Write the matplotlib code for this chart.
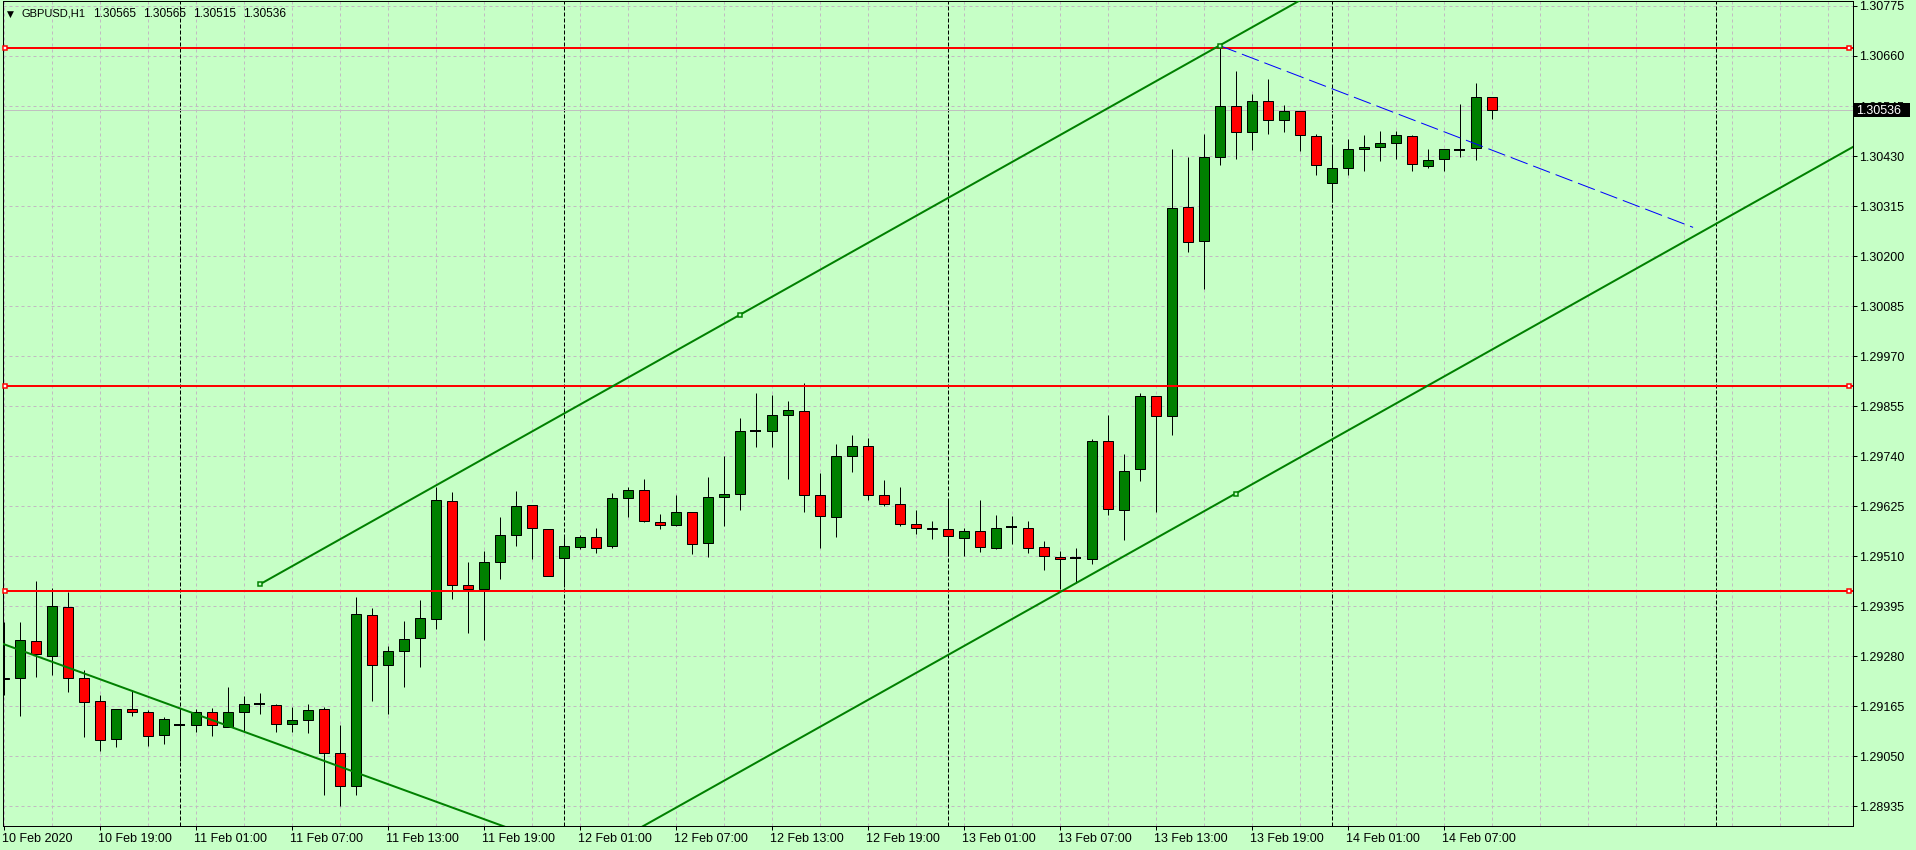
import matplotlib
matplotlib.use("Agg")
import matplotlib.pyplot as plt
from matplotlib.patches import Rectangle
import matplotlib.transforms as mtransforms
import numpy as np

plt.rcParams['lines.scale_dashes'] = False
plt.rcParams['font.family'] = ['Liberation Sans', 'DejaVu Sans']

# ---------------- data ----------------
symbol = "GBPUSD,H1"
title_prices = ["1.30565", "1.30565", "1.30515", "1.30536"]

opens = [1.29227, 1.29229, 1.29315, 1.29281, 1.29393, 1.29229, 1.29177, 1.29089, 1.29158, 1.29151,
         1.29098, 1.29123, 1.29121, 1.29151, 1.29118, 1.29151, 1.29170, 1.29167, 1.29124, 1.29133,
         1.29158, 1.29057, 1.28982, 1.29374, 1.29259, 1.29291, 1.29321, 1.29365, 1.29636, 1.29443,
         1.29434, 1.29497, 1.29558, 1.29627, 1.29572, 1.29505, 1.29531, 1.29554, 1.29533, 1.29643,
         1.29662, 1.29588, 1.29581, 1.29611, 1.29540, 1.29645, 1.29652, 1.29799, 1.29797, 1.29834,
         1.29843, 1.29650, 1.29600, 1.29740, 1.29763, 1.29650, 1.29629, 1.29583, 1.29576, 1.29572,
         1.29551, 1.29567, 1.29528, 1.29578, 1.29574, 1.29531, 1.29508, 1.29507, 1.29504, 1.29774,
         1.29616, 1.29711, 1.29878, 1.29832, 1.30312, 1.30234, 1.30427, 1.30544, 1.30485, 1.30556,
         1.30512, 1.30533, 1.30475, 1.30367, 1.30402, 1.30446, 1.30450, 1.30459, 1.30475, 1.30406,
         1.30423, 1.30445, 1.30448, 1.30565]
highs = [1.29359, 1.29359, 1.29453, 1.29438, 1.29428, 1.29248, 1.29191, 1.29158, 1.29202, 1.29156,
         1.29140, 1.29156, 1.29159, 1.29160, 1.29209, 1.29189, 1.29196, 1.29170, 1.29164, 1.29170,
         1.29163, 1.29122, 1.29416, 1.29391, 1.29304, 1.29360, 1.29409, 1.29668, 1.29658, 1.29497,
         1.29522, 1.29600, 1.29660, 1.29627, 1.29572, 1.29558, 1.29558, 1.29574, 1.29655, 1.29668,
         1.29687, 1.29606, 1.29651, 1.29611, 1.29691, 1.29740, 1.29828, 1.29885, 1.29881, 1.29867,
         1.29908, 1.29701, 1.29767, 1.29788, 1.29781, 1.29685, 1.29668, 1.29616, 1.29590, 1.29639,
         1.29574, 1.29639, 1.29604, 1.29602, 1.29591, 1.29544, 1.29521, 1.29530, 1.29779, 1.29834,
         1.29744, 1.29885, 1.29878, 1.30446, 1.30427, 1.30480, 1.30684, 1.30626, 1.30573, 1.30606,
         1.30547, 1.30533, 1.30480, 1.30455, 1.30469, 1.30478, 1.30487, 1.30487, 1.30478, 1.30446,
         1.30446, 1.30549, 1.30597, 1.30565]
lows = [1.29191, 1.29143, 1.29233, 1.29237, 1.29199, 1.29095, 1.29062, 1.29072, 1.29143, 1.29074,
        1.29079, 1.29040, 1.29107, 1.29097, 1.29118, 1.29107, 1.29148, 1.29107, 1.29107, 1.29104,
        1.28962, 1.28936, 1.28962, 1.29178, 1.29148, 1.29210, 1.29256, 1.29343, 1.29412, 1.29334,
        1.29318, 1.29458, 1.29534, 1.29504, 1.29464, 1.29440, 1.29526, 1.29517, 1.29528, 1.29601,
        1.29588, 1.29572, 1.29579, 1.29514, 1.29509, 1.29580, 1.29617, 1.29762, 1.29761, 1.29688,
        1.29612, 1.29530, 1.29555, 1.29704, 1.29640, 1.29625, 1.29579, 1.29562, 1.29550, 1.29511,
        1.29511, 1.29520, 1.29527, 1.29538, 1.29518, 1.29479, 1.29435, 1.29448, 1.29493, 1.29605,
        1.29548, 1.29684, 1.29612, 1.29789, 1.30209, 1.30125, 1.30410, 1.30424, 1.30445, 1.30481,
        1.30486, 1.30442, 1.30387, 1.30324, 1.30386, 1.30395, 1.30418, 1.30424, 1.30395, 1.30402,
        1.30395, 1.30427, 1.30422, 1.30515]
closes = [1.29229, 1.29317, 1.29285, 1.29396, 1.29229, 1.29176, 1.29087, 1.29158, 1.29151, 1.29096,
          1.29135, 1.29123, 1.29151, 1.29121, 1.29151, 1.29170, 1.29170, 1.29124, 1.29133, 1.29156,
          1.29057, 1.28982, 1.29377, 1.29259, 1.29291, 1.29319, 1.29367, 1.29639, 1.29443, 1.29434,
          1.29496, 1.29558, 1.29625, 1.29574, 1.29464, 1.29533, 1.29554, 1.29528, 1.29643, 1.29662,
          1.29590, 1.29581, 1.29611, 1.29537, 1.29645, 1.29652, 1.29797, 1.29799, 1.29834, 1.29845,
          1.29650, 1.29602, 1.29740, 1.29763, 1.29650, 1.29629, 1.29583, 1.29576, 1.29572, 1.29556,
          1.29567, 1.29531, 1.29576, 1.29578, 1.29530, 1.29510, 1.29503, 1.29507, 1.29776, 1.29618,
          1.29705, 1.29878, 1.29832, 1.30310, 1.30232, 1.30427, 1.30544, 1.30485, 1.30556, 1.30512,
          1.30533, 1.30478, 1.30409, 1.30402, 1.30446, 1.30450, 1.30459, 1.30478, 1.30411, 1.30420,
          1.30446, 1.30445, 1.30565, 1.30536]

time_label_idx = [0, 6, 12, 18, 24, 30, 36, 42, 48, 54, 60, 66, 72, 78, 84, 90]
time_labels = ["10 Feb 2020", "10 Feb 19:00", "11 Feb 01:00", "11 Feb 07:00", "11 Feb 13:00",
               "11 Feb 19:00", "12 Feb 01:00", "12 Feb 07:00", "12 Feb 13:00", "12 Feb 19:00",
               "13 Feb 01:00", "13 Feb 07:00", "13 Feb 13:00", "13 Feb 19:00", "14 Feb 01:00",
               "14 Feb 07:00"]
day_sep_idx = [11, 35, 59, 83, 107]

price_ticks = [1.30775, 1.30660, 1.30545, 1.30430, 1.30315, 1.30200, 1.30085, 1.29970, 1.29855,
               1.29740, 1.29625, 1.29510, 1.29395, 1.29280, 1.29165, 1.29050, 1.28935]
price_tick_labels = ["1.30775", "1.30660", "1.30545", "1.30430", "1.30315", "1.30200", "1.30085",
                     "1.29970", "1.29855", "1.29740", "1.29625", "1.29510", "1.29395", "1.29280",
                     "1.29165", "1.29050", "1.28935"]
bid_price = 1.30536
bid_label = "1.30536"

red_levels = [1.30679, 1.29902, 1.29431]
channel_pts_x = [16, 76]
channel_pts_y = [1.29445, 1.30684]
channel_lower_x = 77
channel_lower_y = 1.29654
down_pts_x = [0, 30]
down_pts_y = [1.29308, 1.28906]
blue_pts_x = [76, 105.6]
blue_pts_y = [1.30684, 1.30266]

# ---------------- style / layout ----------------
W, H, DPI = 1916, 850, 100
PX = 72.0 / DPI
BG = "#C6FFC6"
GRID = "#C2BAC2"
GREEN = "#008000"
RED = "#FF0000"
BLUE = "#0000FF"
FONT = 9

fig = plt.figure(figsize=(W / DPI, H / DPI), dpi=DPI)
fig.patch.set_facecolor(BG)
L, R, T, B = 2.5, 1852.5, 1.0, 826.0
ax = fig.add_axes([L / W, 1 - B / H, (R - L) / W, (B - T) / H])
ax.set_facecolor(BG)
ax.set_xlim(-0.0625, 115.5625)
ax.set_ylim(1.288898, 1.307864)
ppx = (1.307864 - 1.288898) / (B - T)

for s in ax.spines.values():
    s.set_color("black")
    s.set_linewidth(PX)

# grid
for k in range(0, 116, 3):
    ax.axvline(k, color=GRID, lw=PX, dashes=(3 * PX, 3 * PX), zorder=0.5)
for p in price_ticks:
    ax.axhline(p, color=GRID, lw=PX, dashes=(3 * PX, 3 * PX), zorder=0.5)
for d in day_sep_idx:
    ax.axvline(d, color="black", lw=PX, dashes=(4 * PX, 2 * PX), zorder=0.8)

# bid line
ax.axhline(bid_price, color="#C0C0C0", lw=PX, zorder=1)

# candles
o = np.array(opens); h = np.array(highs); lo = np.array(lows); c = np.array(closes)
idx = np.arange(len(o))
ax.vlines(idx, lo, h, colors="black", lw=PX, zorder=3)
BW = 10 / 16.0
for i in idx:
    if abs(c[i] - o[i]) < 0.8 * ppx:
        ax.hlines(o[i], i - 5.5 / 16, i + 5.5 / 16, colors="black", lw=2 * PX, zorder=4)
    else:
        col = GREEN if c[i] > o[i] else RED
        ax.add_patch(Rectangle((i - BW / 2, min(o[i], c[i])), BW, abs(c[i] - o[i]),
                               facecolor=col, edgecolor="black", lw=PX, zorder=4))

# horizontal red lines with anchor squares
axx = mtransforms.blended_transform_factory(ax.transAxes, ax.transData)
for p in red_levels:
    ax.axhline(p, color=RED, lw=2 * PX, zorder=6)
    ax.plot([2.5 / (R - L), 1 - 3.5 / (R - L)], [p, p], ls="none", marker="s", ms=4.5 * PX * 1.1,
            mfc="white", mec=RED, mew=1.5 * PX, transform=axx, zorder=7, clip_on=False)

# channel
slope = (channel_pts_y[1] - channel_pts_y[0]) / (channel_pts_x[1] - channel_pts_x[0])
xu = np.array([channel_pts_x[0], 200.0])
ax.plot(xu, channel_pts_y[0] + slope * (xu - channel_pts_x[0]), color=GREEN, lw=2 * PX, zorder=6)
xl = np.array([-5.0, 200.0])
ax.plot(xl, channel_lower_y + slope * (xl - channel_lower_x), color=GREEN, lw=2 * PX, zorder=6)
mid_x = (channel_pts_x[0] + channel_pts_x[1]) / 2
mid_y = (channel_pts_y[0] + channel_pts_y[1]) / 2
ax.plot([channel_pts_x[0], mid_x, channel_pts_x[1], channel_lower_x],
        [channel_pts_y[0], mid_y, channel_pts_y[1], channel_lower_y],
        ls="none", marker="s", ms=5 * PX, mfc=BG, mec=GREEN, mew=1.5 * PX, zorder=7)

# down trend line
ds = (down_pts_y[1] - down_pts_y[0]) / (down_pts_x[1] - down_pts_x[0])
xd = np.array([-3.0, 45.0])
ax.plot(xd, down_pts_y[0] + ds * (xd - down_pts_x[0]), color=GREEN, lw=2 * PX, zorder=6)

# blue dashed
ax.plot(blue_pts_x, blue_pts_y, color=BLUE, lw=PX, dashes=(18 * PX, 6 * PX), zorder=6)

# axes ticks
ax.set_xticks(time_label_idx)
ax.set_xticklabels([])
ax.tick_params(axis="x", direction="out", length=4 * PX, width=PX, color="black")
ax.yaxis.tick_right()
ax.set_yticks(price_ticks)
ax.set_yticklabels([])
ax.tick_params(axis="y", direction="out", length=4 * PX, width=PX, color="black")

# time labels
for i, s in zip(time_label_idx, time_labels):
    xd_ = ax.transData.transform((i, 0))[0]
    fig.text((xd_ - 1.0) / W, 1 - 841.5 / H, s, fontsize=FONT, color="black",
             ha="left", va="baseline")

# price labels
for p, s in zip(price_ticks, price_tick_labels):
    yd = ax.transData.transform((0, p))[1]
    fig.text(1859 / W, (yd - 4.5) / H, s, fontsize=FONT, color="black", ha="left", va="baseline")

# current price box
yb = ax.transData.transform((0, bid_price))[1]
fig.patches.append(Rectangle((1853 / W, (yb - 6.7) / H), 57 / W, 13.4 / H, transform=fig.transFigure,
                             facecolor="black", edgecolor="none", zorder=10))
fig.text(1855.7 / W, (yb - 4.5) / H, bid_label, fontsize=FONT, color="white", ha="left",
         va="baseline", zorder=11)

# title
fig.text(6.5 / W, 1 - 16.5 / H, "\u25BC", fontsize=6.5, family="DejaVu Sans", ha="left",
         va="baseline", color="black")
fig.text(21.7 / W, 1 - 16.7 / H, symbol, fontsize=8, ha="left", va="baseline", color="black")
title_x = [93, 143, 193, 243]
for xx, s in zip(title_x, title_prices):
    fig.text(xx / W, 1 - 16.7 / H, s, fontsize=8.6, ha="left", va="baseline", color="black")

fig.savefig("out.png", dpi=DPI, facecolor=BG)
